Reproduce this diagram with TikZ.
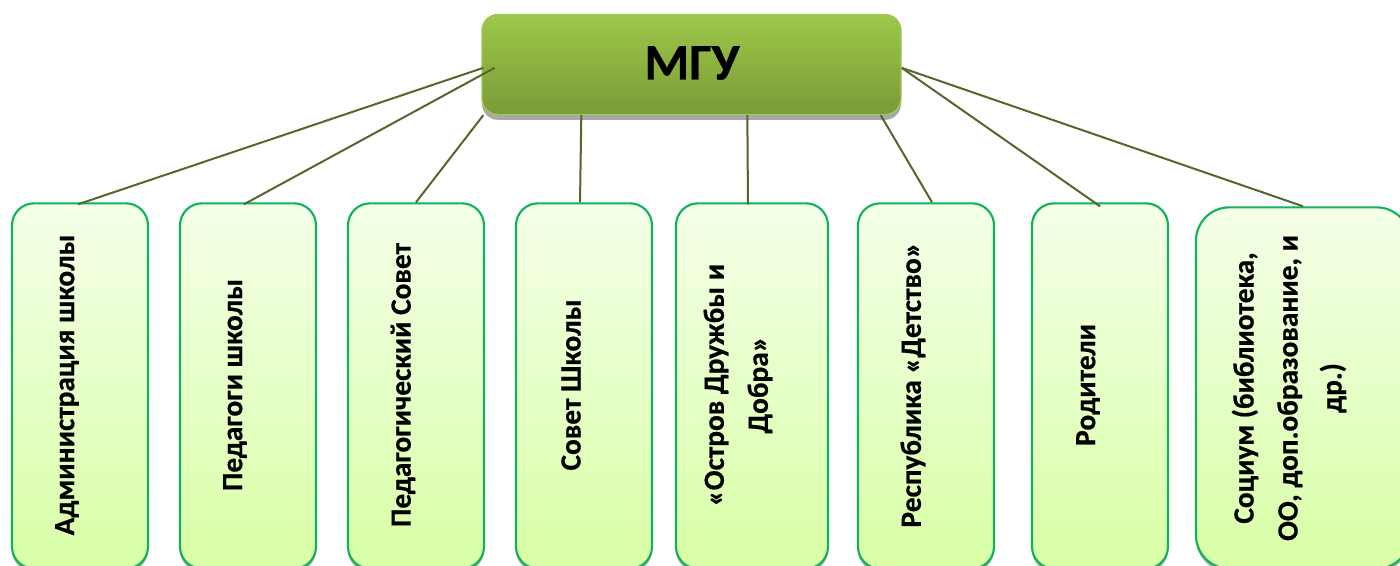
\documentclass[tikz,border=0pt]{standalone}
\usepackage{fontspec}
\setmainfont{Carlito}[BoldFeatures={FakeBold=0.6}]
\usetikzlibrary{shadows}
\tikzset{
  x=0.75pt,y=-0.75pt,
  topbox/.style={rectangle,rounded corners=12pt,inner sep=0pt,minimum width=314.25pt,minimum height=75pt,
    top color=mgutop,bottom color=mgubot,draw=mgubord,line width=1pt,
    drop shadow={shadow xshift=0pt,shadow yshift=-4pt,fill=shadowgrey,opacity=1}},
  leafbox/.style={rectangle,rounded corners=16.5pt,inner sep=0pt,minimum width=102pt,minimum height=274pt,
    top color=leaftop,bottom color=leafbot,draw=leafbord,line width=1.6pt,
    drop shadow={shadow xshift=0pt,shadow yshift=-2.5pt,fill=shadowgrey,opacity=1}},
  leaftext/.style={rotate=90,align=center,font=\bfseries\fontsize{22}{33}\selectfont,text=black,inner sep=0pt},
  link/.style={draw=linkcol,line width=1.5pt},
}
\definecolor{mgutop}{HTML}{9DC84A}
\definecolor{mgubot}{HTML}{7A9A36}
\definecolor{mgubord}{HTML}{A2C45C}
\definecolor{leaftop}{HTML}{F4FFE8}
\definecolor{leafbot}{HTML}{D8FFA6}
\definecolor{leafbord}{HTML}{10B25C}
\definecolor{linkcol}{HTML}{56662C}
\definecolor{shadowgrey}{HTML}{A8A8A8}
\begin{document}
\begin{tikzpicture}
\useasboundingbox (0,0) rectangle (1400,565);
\node[topbox] (mgu) at (691.5,64.5) {};
\node[font=\bfseries\fontsize{38.5}{42}\selectfont,inner sep=0pt] (mgutext) at (692,63) {МГУ};

\node[leafbox] (a1) at (80,386) {};
\node[leafbox] (a2) at (248,386) {};
\node[leafbox] (a3) at (416,386) {};
\node[leafbox] (a4) at (584,386) {};
\node[leafbox,minimum width=114pt] (a5) at (752,386) {};
\node[leafbox] (a6) at (926,386) {};
\node[leafbox] (a7) at (1100,386) {};
\node[leafbox,minimum width=160.5pt,minimum height=271pt,rounded corners=25pt] (a8) at (1303,388) {};

\node[leaftext] (t1) at (67,385) {Администрация школы};
\node[leaftext] (t2) at (235,385) {Педагоги школы};
\node[leaftext] (t3) at (403,385) {Педагогический Совет};
\node[leaftext] (t4) at (571,385) {Совет Школы};
\node[leaftext] (t5) at (738,385) {«Остров Дружбы и\\Добра»};
\node[leaftext] (t6) at (913,385) {Республика «Детство»};
\node[leaftext] (t7) at (1088,385) {Родители};
\node[leaftext] (t8) at (1289,388) {Социум (библиотека,\\ОО, доп.образование, и\\др.)};

\draw[link] ([xshift=1.5pt,yshift=-2.5pt]mgu.west) -- ([xshift=-1.5pt,yshift=-1.5pt]a1.north);
\draw[link] ([xshift=10pt,yshift=-2.5pt]mgu.west) -- ([xshift=-3pt,yshift=-1.5pt]a2.north);
\draw[link] ([xshift=1.5pt]mgu.south west) -- (a3.north);
\draw[link] ([xshift=75pt]mgu.south west) -- ([xshift=-3pt]a4.north);
\draw[link] ([xshift=199.5pt]mgu.south west) -- ([xshift=-3pt,yshift=-1.5pt]a5.north);
\draw[link] ([xshift=-15.75pt]mgu.south east) -- ([xshift=4.5pt]a6.north);
\draw[link] ([yshift=-2.5pt]mgu.east) -- ([yshift=-3pt]a7.north);
\draw[link] ([yshift=-2.5pt]mgu.east) -- (a8.north);
\end{tikzpicture}
\end{document}
